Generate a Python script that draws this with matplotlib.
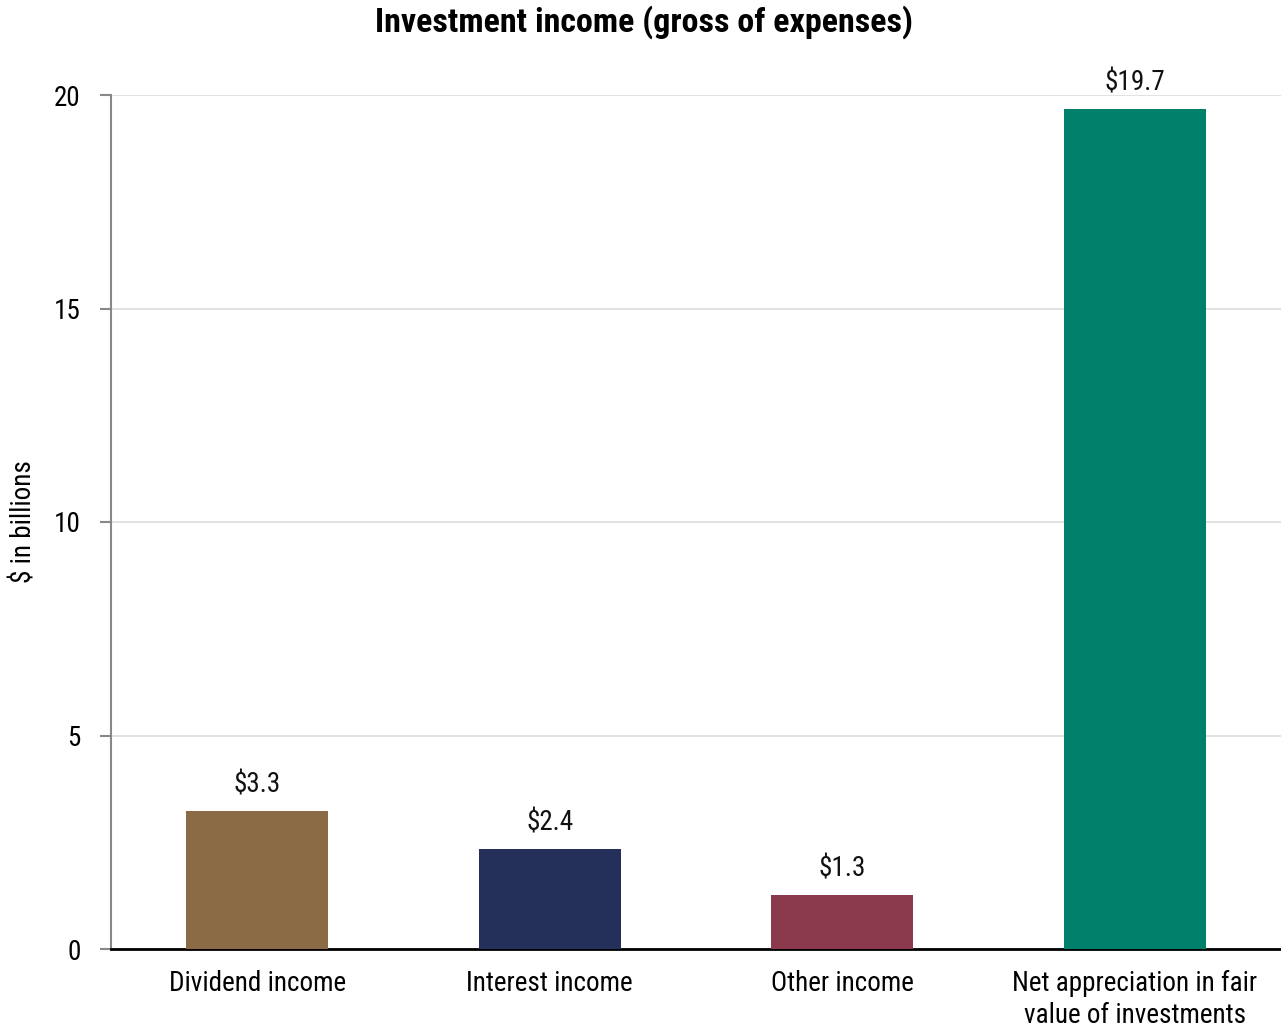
import matplotlib
matplotlib.use("Agg")
import matplotlib.pyplot as plt
from matplotlib import font_manager

names = {f.name for f in font_manager.fontManager.ttflist}
fam = [n for n in ["Liberation Sans Narrow", "Roboto Condensed", "Open Sans Condensed", "Liberation Sans", "DejaVu Sans"] if n in names]
plt.rcParams['font.family'] = fam

categories = ["Dividend income", "Interest income", "Other income", "Net appreciation in fair\nvalue of investments"]
values = [3.23, 2.34, 1.26, 19.67]
value_labels = ["$3.3", "$2.4", "$1.3", "$19.7"]
colors = ["#8B6B46", "#24305A", "#8B3A4E", "#007F6B"]
yticks = [0, 5, 10, 15, 20]

FS = 19.5
fig = plt.figure(figsize=(12.81, 10.29), dpi=100)
ax = fig.add_axes([111/1281, 1-949/1029, 1-111/1281, (949-95)/1029])
x = range(len(categories))
ax.bar(x, values, width=0.486, color=colors, zorder=3)
for xi, v, lab in zip(x, values, value_labels):
    ax.text(xi, v + 0.3, lab, ha='center', va='bottom', fontsize=FS, color='#111111')
ax.set_xlim(-0.5, 3.5)
ax.set_ylim(0, 20)
ax.set_yticks(yticks)
ax.set_yticklabels([str(t) for t in yticks], fontsize=FS)
ax.set_xticks(list(x))
ax.set_xticklabels(categories, fontsize=FS, linespacing=1.25)
ax.tick_params(axis='x', length=0, pad=15)
ax.tick_params(axis='y', length=8, width=1.5, color='#888888', pad=14)
ax.grid(axis='y', color='#dddddd', linewidth=1.2, zorder=0)
for s in ['top', 'right']:
    ax.spines[s].set_visible(False)
ax.spines['left'].set_color('#888888')
ax.spines['left'].set_linewidth(1.5)
ax.spines['bottom'].set_color('#000000')
ax.spines['bottom'].set_linewidth(2)
ax.set_ylabel("$ in billions", fontsize=FS, va='center')
ax.yaxis.set_label_coords(-(111-24)/1170, 0.5)
fig.text(0.503, 1-22/1029, "Investment income (gross of expenses)", ha='center', va='center', fontsize=24.5, fontweight='bold')
fig.savefig("out.png", dpi=100)
